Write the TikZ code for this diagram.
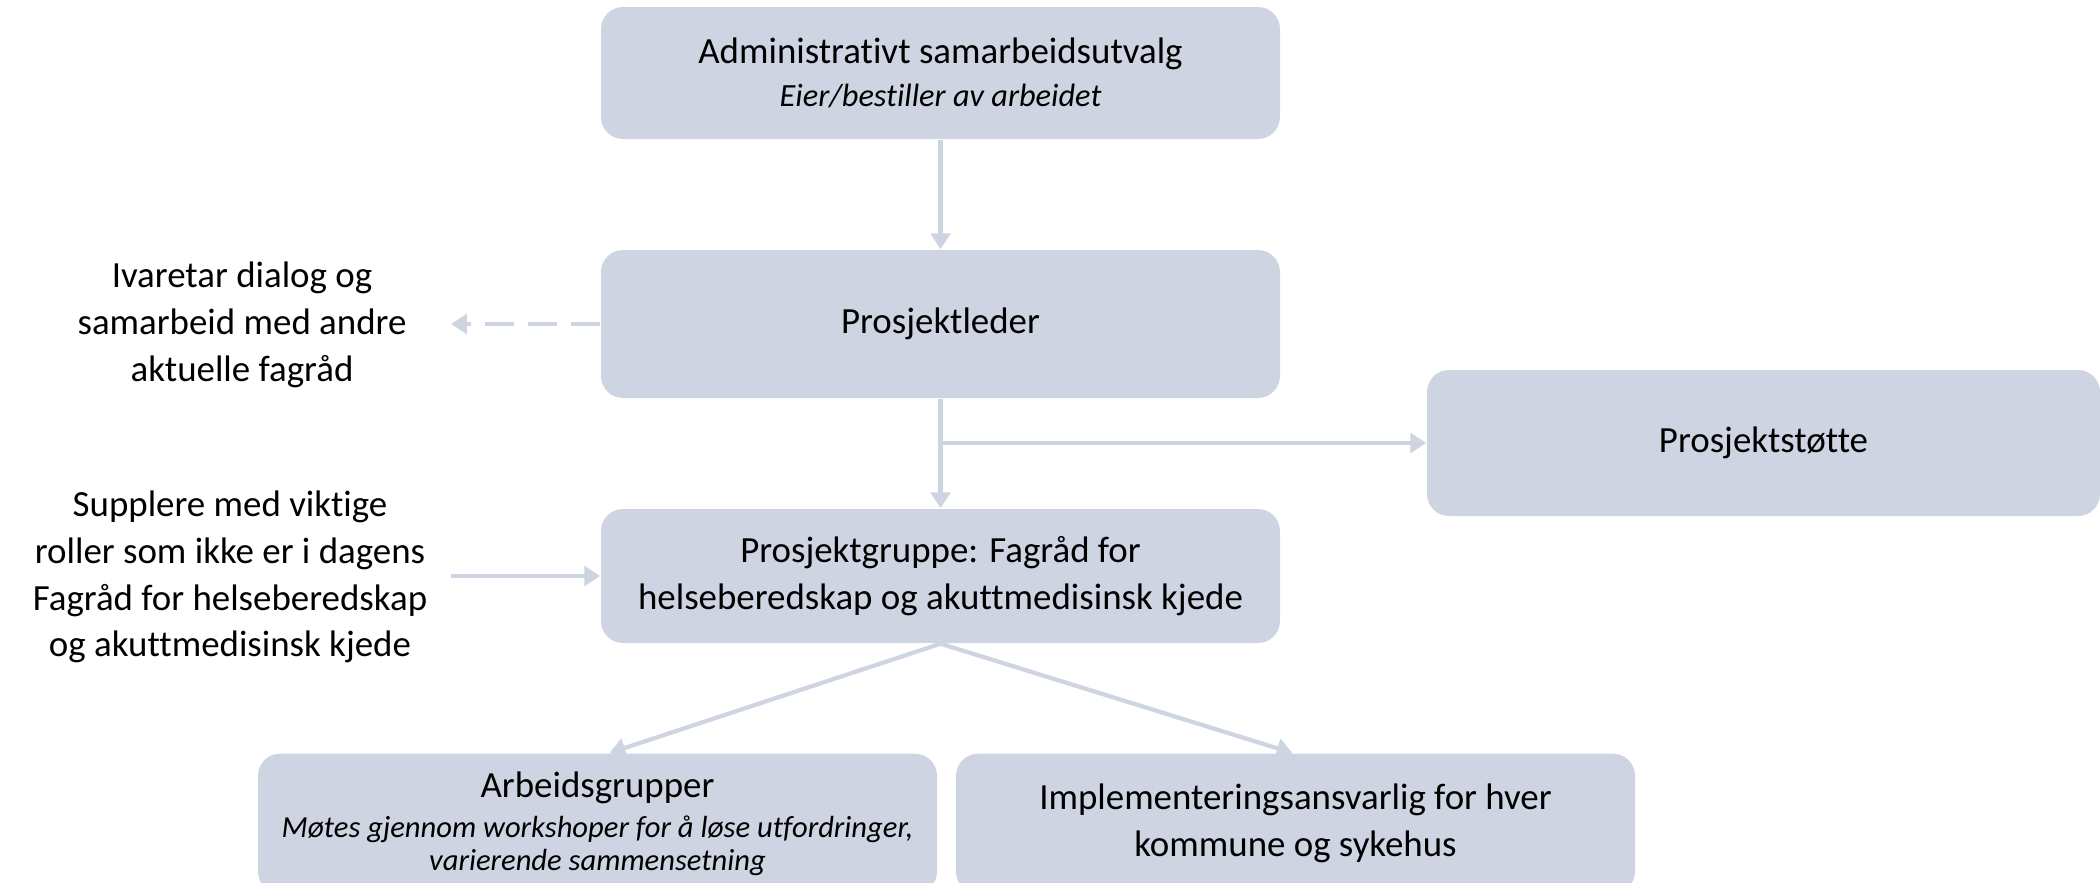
\documentclass[tikz,border=0pt]{standalone}
\usepackage{fontspec}
\setmainfont{Carlito}[Ligatures={NoCommon}]
\usetikzlibrary{arrows.meta}
\definecolor{boxblue}{RGB}{206,212,226}
\begin{document}
\begin{tikzpicture}[
        orgbox/.style={rectangle,rounded corners=0.22cm,fill=boxblue,minimum width=6.79cm,align=center,font=\fontsize{10.5}{13.3}\selectfont},
        sidetext/.style={align=center,font=\fontsize{10.5}{13.3}\selectfont},
        link/.style={boxblue,line width=1.2pt,-{Triangle[width=5.5pt,length=4.5pt]}}]
        \useasboundingbox (0,0) rectangle (21,-8.83);
        \node[orgbox,minimum height=1.32cm] (asu) at (9.405,-0.73) {Administrativt samarbeidsutvalg\\[-1pt]\fontsize{9.2}{11}\selectfont\itshape Eier/bestiller av arbeidet};
        \node[orgbox,minimum height=1.48cm] (leder) at (9.405,-3.24) {Prosjektleder};
        \node[orgbox,minimum width=6.73cm,minimum height=1.46cm] (stotte) at (17.635,-4.43) {Prosjektstøtte};
        \node[orgbox,minimum height=1.34cm] (gruppe) at (9.405,-5.76) {Prosjektgruppe: Fagråd for\\helseberedskap og akuttmedisinsk kjede};
        \node[orgbox,anchor=north,minimum height=1.4cm] (arbeid) at (5.975,-7.53) {Arbeidsgrupper\\[-2pt]\fontsize{8.7}{11}\selectfont\itshape Møtes gjennom workshoper for å løse utfordringer,\\[-3.8pt]\fontsize{8.7}{11}\selectfont\itshape varierende sammensetning};
        \node[orgbox,anchor=north,minimum height=1.4cm] (impl) at (12.955,-7.53) {Implementeringsansvarlig for hver\\kommune og sykehus};
        \node[sidetext] (dialog) at (2.42,-3.25) {Ivaretar dialog og\\samarbeid med andre\\aktuelle fagråd};
        \node[sidetext] (supplere) at (2.3,-5.77) {Supplere med viktige\\roller som ikke er i dagens\\Fagråd for helseberedskap\\og akuttmedisinsk kjede};
        \coordinate (dialogend) at (4.51,-3.24);
        \coordinate (suppstart) at (4.51,-5.76);
        \draw[link] (asu) -- (leder);
        \draw[link,dash pattern=on 0.29cm off 0.14cm] (leder.west) -- (dialogend);
        \draw[link] (leder) -- (gruppe);
        \draw[link] (leder.south |- stotte.west) -- (stotte.west);
        \draw[link] (suppstart) -- (gruppe.west);
        \draw[link] (gruppe.south) -- ([xshift=0.12cm]arbeid.north);
        \draw[link] (gruppe.south) -- ([xshift=-0.03cm]impl.north);
    \end{tikzpicture}
\end{document}
